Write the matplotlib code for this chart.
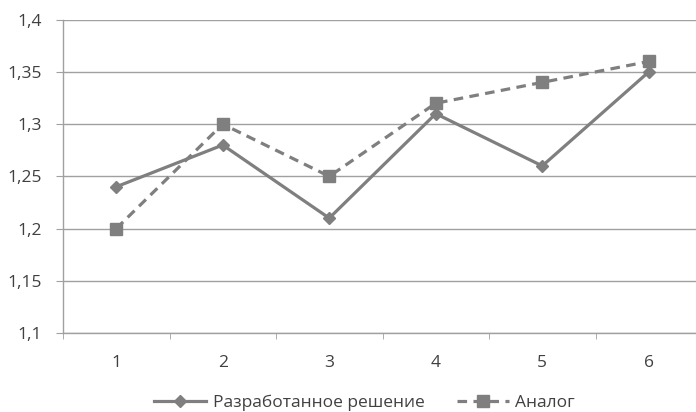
import matplotlib
matplotlib.use("Agg")
import matplotlib.pyplot as plt
from matplotlib.ticker import FixedLocator, FuncFormatter

categories = [1, 2, 3, 4, 5, 6]
developed = [1.24, 1.28, 1.21, 1.31, 1.26, 1.35]
analog = [1.20, 1.30, 1.25, 1.32, 1.34, 1.36]
yticks = [1.1, 1.15, 1.2, 1.25, 1.3, 1.35, 1.4]

plt.rcParams['font.family'] = ['Open Sans', 'DejaVu Sans']

fig = plt.figure(figsize=(6.96, 4.12), dpi=100)
ax = fig.add_axes([63/696, 1-333/412, 639/696, (333-19.7)/412])

col = '#7f7f7f'
ax.plot(categories, developed, color=col, lw=2.3, marker='D', ms=6.5,
        label='Разработанное решение', zorder=3)
ax.plot(categories, analog, color=col, lw=2.3, ls=(0, (3, 2)), marker='s', ms=9,
        label='Аналог', zorder=3)

ax.set_xlim(0.5, 6.5)
ax.set_ylim(1.1, 1.4)
ax.set_yticks(yticks)
ax.yaxis.set_major_formatter(FuncFormatter(lambda v, p: ('%g' % round(v, 2)).replace('.', ',')))
ax.set_xticks(categories)
ax.xaxis.set_minor_locator(FixedLocator([0.5 + i for i in range(7)]))
ax.tick_params(axis='x', which='major', length=0, pad=16, labelsize=12.5, colors='#404040')
ax.tick_params(axis='x', which='minor', length=4, color='#a0a0a0', direction='out')
ax.tick_params(axis='y', length=5, color='#a0a0a0', labelsize=12.5, labelcolor='#404040', pad=10)
ax.grid(axis='y', color='#a0a0a0', lw=1)
ax.set_axisbelow(True)
for s in ['top', 'right']:
    ax.spines[s].set_visible(False)
for s in ['left', 'bottom']:
    ax.spines[s].set_color('#a0a0a0')
    ax.spines[s].set_linewidth(1)

leg = fig.legend(loc='center', bbox_to_anchor=(0.524, 1-403/412), ncol=2, frameon=False,
                 fontsize=12.5, handlelength=3.0, columnspacing=1.9, handletextpad=0.35)
for t in leg.get_texts():
    t.set_color('#404040')

fig.savefig('out.png', dpi=100)
